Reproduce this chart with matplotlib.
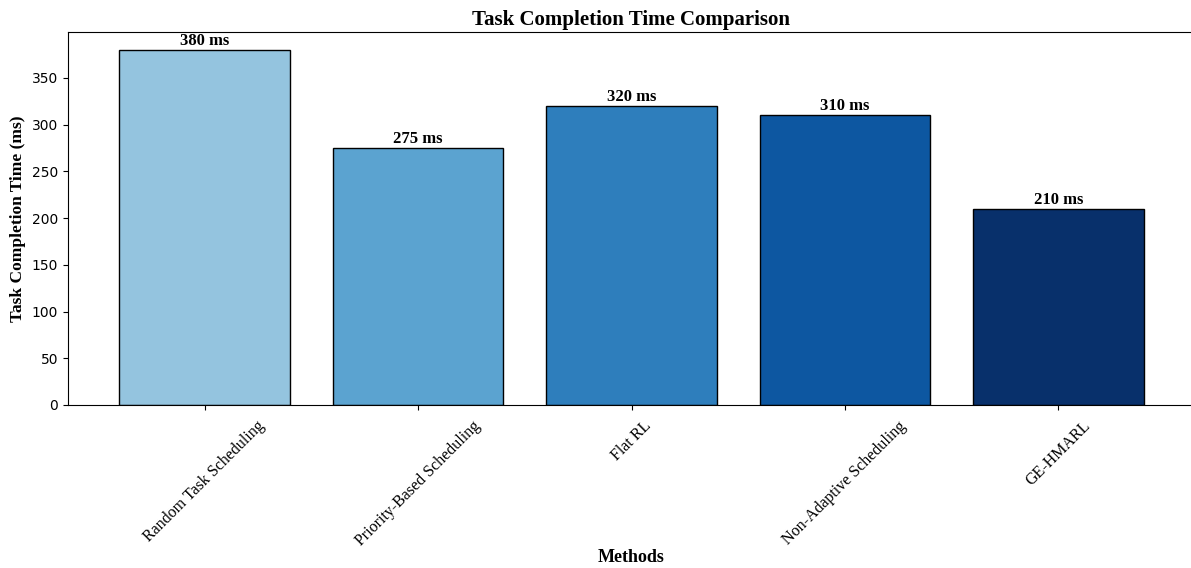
import numpy as np
import matplotlib.pyplot as plt

# Task completion time per scheduling method (ms)
methods = ["Random Task Scheduling", "Priority-Based Scheduling", "Flat RL",
           "Non-Adaptive Scheduling", "GE-HMARL"]
times = [380, 275, 320, 310, 210]

serif = ["Liberation Serif", "DejaVu Serif"]
colors = plt.cm.Blues(np.linspace(0.4, 1.0, len(methods)))

fig = plt.figure(figsize=(11.91, 5.68), dpi=100)
ax = fig.add_axes([68 / 1191, 163 / 568, 1127 / 1191, 373 / 568])

x = np.arange(len(methods))
bars = ax.bar(x, times, width=0.8, color=colors, edgecolor="black", linewidth=1)

for b, v in zip(bars, times):
    ax.text(b.get_x() + b.get_width() / 2, v + 1, f"{v} ms", ha="center", va="bottom",
            fontsize=12, fontweight="bold", family=serif)

ax.set_xticks(x)
ax.set_xticklabels(methods, rotation=45, ha="center", fontsize=11.5, family=serif)
ax.tick_params(axis="x", pad=6)
ax.tick_params(axis="y", labelsize=10)
ax.set_title("Task Completion Time Comparison", fontsize=15, fontweight="bold",
             family=serif, pad=5)
ax.set_xlabel("Methods", fontsize=13, fontweight="bold", family=serif)
ax.xaxis.set_label_coords(0.5, -0.385)
ax.set_ylabel("Task Completion Time (ms)", fontsize=12.5, fontweight="bold", family=serif)

fig.savefig("out.png", dpi=100)
